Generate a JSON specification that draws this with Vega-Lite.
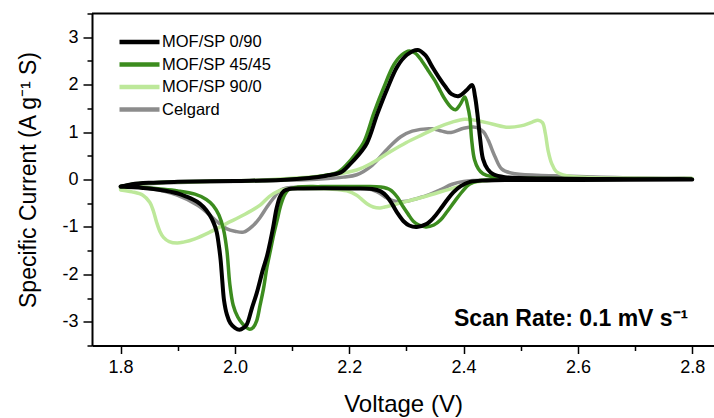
{
  "$schema": "https://vega.github.io/schema/vega-lite/v6.json",
  "width": 622,
  "height": 332,
  "autosize": {"type": "none"},
  "padding": {"left": 92, "top": 13.5, "right": 0, "bottom": 72.5},
  "background": "white",
  "config": {
    "view": {"stroke": null},
    "font": "Liberation Sans",
    "axis": {
      "domainColor": "black", "domainWidth": 2, "tickColor": "black", "tickWidth": 1.5,
      "labelColor": "black", "titleColor": "black", "grid": false,
      "labelFont": "Liberation Sans", "titleFont": "Liberation Sans",
      "labelFontSize": 18, "titleFontSize": 24, "titleFontWeight": "normal"
    },
    "legend": {
      "orient": "none", "legendX": 35, "legendY": 16, "padding": 0,
      "symbolType": "M-2,0L2,0", "symbolSize": 400, "symbolStrokeWidth": 4.5,
      "labelFont": "Liberation Sans", "labelFontSize": 16.5, "labelColor": "black",
      "labelOffset": 10, "rowPadding": 0.5, "title": null
    }
  },
  "datasets": {
    "cv": [
      {"s":"Celgard","i":1,"v":1.800,"c":-0.15},{"s":"Celgard","i":2,"v":1.850,"c":-0.09},{"s":"Celgard","i":3,"v":1.950,"c":-0.05},{"s":"Celgard","i":4,"v":2.050,"c":-0.03},{"s":"Celgard","i":5,"v":2.150,"c":0.01},{"s":"Celgard","i":6,"v":2.190,"c":0.05},{"s":"Celgard","i":7,"v":2.213,"c":0.10},{"s":"Celgard","i":8,"v":2.240,"c":0.30},{"s":"Celgard","i":9,"v":2.268,"c":0.66},{"s":"Celgard","i":10,"v":2.290,"c":0.90},{"s":"Celgard","i":11,"v":2.310,"c":1.02},{"s":"Celgard","i":12,"v":2.345,"c":1.07},{"s":"Celgard","i":13,"v":2.362,"c":1.02},{"s":"Celgard","i":14,"v":2.378,"c":0.99},{"s":"Celgard","i":15,"v":2.400,"c":1.08},{"s":"Celgard","i":16,"v":2.422,"c":1.10},{"s":"Celgard","i":17,"v":2.435,"c":1.00},{"s":"Celgard","i":18,"v":2.443,"c":0.83},{"s":"Celgard","i":19,"v":2.455,"c":0.48},{"s":"Celgard","i":20,"v":2.467,"c":0.22},{"s":"Celgard","i":21,"v":2.490,"c":0.12},{"s":"Celgard","i":22,"v":2.560,"c":0.08},{"s":"Celgard","i":23,"v":2.665,"c":0.04},{"s":"Celgard","i":24,"v":2.800,"c":0.02},
      {"s":"Celgard","i":25,"v":2.600,"c":0.00},{"s":"Celgard","i":26,"v":2.460,"c":-0.01},{"s":"Celgard","i":27,"v":2.420,"c":-0.02},{"s":"Celgard","i":28,"v":2.400,"c":-0.04},{"s":"Celgard","i":29,"v":2.380,"c":-0.10},{"s":"Celgard","i":30,"v":2.359,"c":-0.22},{"s":"Celgard","i":31,"v":2.340,"c":-0.32},{"s":"Celgard","i":32,"v":2.319,"c":-0.40},{"s":"Celgard","i":33,"v":2.300,"c":-0.46},{"s":"Celgard","i":34,"v":2.289,"c":-0.47},{"s":"Celgard","i":35,"v":2.275,"c":-0.44},{"s":"Celgard","i":36,"v":2.266,"c":-0.39},{"s":"Celgard","i":37,"v":2.249,"c":-0.26},{"s":"Celgard","i":38,"v":2.231,"c":-0.19},{"s":"Celgard","i":39,"v":2.200,"c":-0.16},{"s":"Celgard","i":40,"v":2.120,"c":-0.16},{"s":"Celgard","i":41,"v":2.090,"c":-0.18},{"s":"Celgard","i":42,"v":2.079,"c":-0.23},{"s":"Celgard","i":43,"v":2.067,"c":-0.40},{"s":"Celgard","i":44,"v":2.056,"c":-0.58},{"s":"Celgard","i":45,"v":2.044,"c":-0.80},{"s":"Celgard","i":46,"v":2.032,"c":-0.97},{"s":"Celgard","i":47,"v":2.015,"c":-1.11},{"s":"Celgard","i":48,"v":2.000,"c":-1.09},{"s":"Celgard","i":49,"v":1.986,"c":-1.04},{"s":"Celgard","i":50,"v":1.970,"c":-0.90},{"s":"Celgard","i":51,"v":1.956,"c":-0.75},{"s":"Celgard","i":52,"v":1.934,"c":-0.54},{"s":"Celgard","i":53,"v":1.899,"c":-0.33},{"s":"Celgard","i":54,"v":1.851,"c":-0.19},{"s":"Celgard","i":55,"v":1.800,"c":-0.15},

      {"s":"MOF/SP 90/0","i":1,"v":1.800,"c":-0.20},{"s":"MOF/SP 90/0","i":2,"v":1.820,"c":-0.12},{"s":"MOF/SP 90/0","i":3,"v":1.860,"c":-0.07},{"s":"MOF/SP 90/0","i":4,"v":1.950,"c":-0.04},{"s":"MOF/SP 90/0","i":5,"v":2.050,"c":-0.01},{"s":"MOF/SP 90/0","i":6,"v":2.120,"c":0.04},{"s":"MOF/SP 90/0","i":7,"v":2.170,"c":0.10},{"s":"MOF/SP 90/0","i":8,"v":2.213,"c":0.20},{"s":"MOF/SP 90/0","i":9,"v":2.240,"c":0.35},{"s":"MOF/SP 90/0","i":10,"v":2.271,"c":0.58},{"s":"MOF/SP 90/0","i":11,"v":2.300,"c":0.78},{"s":"MOF/SP 90/0","i":12,"v":2.329,"c":0.95},{"s":"MOF/SP 90/0","i":13,"v":2.355,"c":1.10},{"s":"MOF/SP 90/0","i":14,"v":2.380,"c":1.21},{"s":"MOF/SP 90/0","i":15,"v":2.402,"c":1.27},{"s":"MOF/SP 90/0","i":16,"v":2.425,"c":1.24},{"s":"MOF/SP 90/0","i":17,"v":2.450,"c":1.17},{"s":"MOF/SP 90/0","i":18,"v":2.478,"c":1.10},{"s":"MOF/SP 90/0","i":19,"v":2.500,"c":1.13},{"s":"MOF/SP 90/0","i":20,"v":2.520,"c":1.21},{"s":"MOF/SP 90/0","i":21,"v":2.530,"c":1.25},{"s":"MOF/SP 90/0","i":22,"v":2.538,"c":1.20},{"s":"MOF/SP 90/0","i":23,"v":2.543,"c":0.97},{"s":"MOF/SP 90/0","i":24,"v":2.548,"c":0.60},{"s":"MOF/SP 90/0","i":25,"v":2.554,"c":0.34},{"s":"MOF/SP 90/0","i":26,"v":2.562,"c":0.17},{"s":"MOF/SP 90/0","i":27,"v":2.580,"c":0.08},{"s":"MOF/SP 90/0","i":28,"v":2.620,"c":0.04},{"s":"MOF/SP 90/0","i":29,"v":2.800,"c":0.02},
      {"s":"MOF/SP 90/0","i":30,"v":2.600,"c":0.00},{"s":"MOF/SP 90/0","i":31,"v":2.460,"c":-0.01},{"s":"MOF/SP 90/0","i":32,"v":2.424,"c":-0.05},{"s":"MOF/SP 90/0","i":33,"v":2.388,"c":-0.16},{"s":"MOF/SP 90/0","i":34,"v":2.329,"c":-0.37},{"s":"MOF/SP 90/0","i":35,"v":2.284,"c":-0.51},{"s":"MOF/SP 90/0","i":36,"v":2.262,"c":-0.58},{"s":"MOF/SP 90/0","i":37,"v":2.254,"c":-0.60},{"s":"MOF/SP 90/0","i":38,"v":2.242,"c":-0.58},{"s":"MOF/SP 90/0","i":39,"v":2.231,"c":-0.51},{"s":"MOF/SP 90/0","i":40,"v":2.220,"c":-0.40},{"s":"MOF/SP 90/0","i":41,"v":2.213,"c":-0.33},{"s":"MOF/SP 90/0","i":42,"v":2.196,"c":-0.24},{"s":"MOF/SP 90/0","i":43,"v":2.166,"c":-0.20},{"s":"MOF/SP 90/0","i":44,"v":2.120,"c":-0.19},{"s":"MOF/SP 90/0","i":45,"v":2.090,"c":-0.20},{"s":"MOF/SP 90/0","i":46,"v":2.075,"c":-0.25},{"s":"MOF/SP 90/0","i":47,"v":2.060,"c":-0.36},{"s":"MOF/SP 90/0","i":48,"v":2.044,"c":-0.54},{"s":"MOF/SP 90/0","i":49,"v":2.015,"c":-0.75},{"s":"MOF/SP 90/0","i":50,"v":1.985,"c":-0.93},{"s":"MOF/SP 90/0","i":51,"v":1.956,"c":-1.11},{"s":"MOF/SP 90/0","i":52,"v":1.930,"c":-1.25},{"s":"MOF/SP 90/0","i":53,"v":1.910,"c":-1.32},{"s":"MOF/SP 90/0","i":54,"v":1.899,"c":-1.34},{"s":"MOF/SP 90/0","i":55,"v":1.885,"c":-1.31},{"s":"MOF/SP 90/0","i":56,"v":1.875,"c":-1.22},{"s":"MOF/SP 90/0","i":57,"v":1.869,"c":-1.10},{"s":"MOF/SP 90/0","i":58,"v":1.863,"c":-0.90},{"s":"MOF/SP 90/0","i":59,"v":1.857,"c":-0.65},{"s":"MOF/SP 90/0","i":60,"v":1.851,"c":-0.48},{"s":"MOF/SP 90/0","i":61,"v":1.839,"c":-0.33},{"s":"MOF/SP 90/0","i":62,"v":1.820,"c":-0.26},{"s":"MOF/SP 90/0","i":63,"v":1.800,"c":-0.22},

      {"s":"MOF/SP 45/45","i":1,"v":1.800,"c":-0.15},{"s":"MOF/SP 45/45","i":2,"v":1.820,"c":-0.10},{"s":"MOF/SP 45/45","i":3,"v":1.850,"c":-0.07},{"s":"MOF/SP 45/45","i":4,"v":1.900,"c":-0.05},{"s":"MOF/SP 45/45","i":5,"v":2.000,"c":-0.03},{"s":"MOF/SP 45/45","i":6,"v":2.080,"c":-0.01},{"s":"MOF/SP 45/45","i":7,"v":2.125,"c":0.03},{"s":"MOF/SP 45/45","i":8,"v":2.155,"c":0.08},{"s":"MOF/SP 45/45","i":9,"v":2.180,"c":0.15},{"s":"MOF/SP 45/45","i":10,"v":2.196,"c":0.32},{"s":"MOF/SP 45/45","i":11,"v":2.210,"c":0.52},{"s":"MOF/SP 45/45","i":12,"v":2.226,"c":0.80},{"s":"MOF/SP 45/45","i":13,"v":2.243,"c":1.40},{"s":"MOF/SP 45/45","i":14,"v":2.260,"c":1.93},{"s":"MOF/SP 45/45","i":15,"v":2.278,"c":2.42},{"s":"MOF/SP 45/45","i":16,"v":2.292,"c":2.63},{"s":"MOF/SP 45/45","i":17,"v":2.305,"c":2.71},{"s":"MOF/SP 45/45","i":18,"v":2.316,"c":2.66},{"s":"MOF/SP 45/45","i":19,"v":2.327,"c":2.50},{"s":"MOF/SP 45/45","i":20,"v":2.338,"c":2.30},{"s":"MOF/SP 45/45","i":21,"v":2.350,"c":2.08},{"s":"MOF/SP 45/45","i":22,"v":2.360,"c":1.85},{"s":"MOF/SP 45/45","i":23,"v":2.368,"c":1.68},{"s":"MOF/SP 45/45","i":24,"v":2.379,"c":1.51},{"s":"MOF/SP 45/45","i":25,"v":2.386,"c":1.47},{"s":"MOF/SP 45/45","i":26,"v":2.394,"c":1.58},{"s":"MOF/SP 45/45","i":27,"v":2.402,"c":1.74},{"s":"MOF/SP 45/45","i":28,"v":2.407,"c":1.55},{"s":"MOF/SP 45/45","i":29,"v":2.411,"c":1.30},{"s":"MOF/SP 45/45","i":30,"v":2.414,"c":0.85},{"s":"MOF/SP 45/45","i":31,"v":2.419,"c":0.42},{"s":"MOF/SP 45/45","i":32,"v":2.426,"c":0.22},{"s":"MOF/SP 45/45","i":33,"v":2.434,"c":0.12},{"s":"MOF/SP 45/45","i":34,"v":2.449,"c":0.06},{"s":"MOF/SP 45/45","i":35,"v":2.500,"c":0.03},{"s":"MOF/SP 45/45","i":36,"v":2.800,"c":0.01},
      {"s":"MOF/SP 45/45","i":37,"v":2.600,"c":0.00},{"s":"MOF/SP 45/45","i":38,"v":2.450,"c":-0.01},{"s":"MOF/SP 45/45","i":39,"v":2.425,"c":-0.03},{"s":"MOF/SP 45/45","i":40,"v":2.410,"c":-0.10},{"s":"MOF/SP 45/45","i":41,"v":2.398,"c":-0.25},{"s":"MOF/SP 45/45","i":42,"v":2.385,"c":-0.45},{"s":"MOF/SP 45/45","i":43,"v":2.371,"c":-0.68},{"s":"MOF/SP 45/45","i":44,"v":2.360,"c":-0.85},{"s":"MOF/SP 45/45","i":45,"v":2.348,"c":-0.96},{"s":"MOF/SP 45/45","i":46,"v":2.334,"c":-1.00},{"s":"MOF/SP 45/45","i":47,"v":2.322,"c":-0.96},{"s":"MOF/SP 45/45","i":48,"v":2.312,"c":-0.88},{"s":"MOF/SP 45/45","i":49,"v":2.303,"c":-0.73},{"s":"MOF/SP 45/45","i":50,"v":2.294,"c":-0.57},{"s":"MOF/SP 45/45","i":51,"v":2.284,"c":-0.37},{"s":"MOF/SP 45/45","i":52,"v":2.272,"c":-0.22},{"s":"MOF/SP 45/45","i":53,"v":2.255,"c":-0.16},{"s":"MOF/SP 45/45","i":54,"v":2.220,"c":-0.15},{"s":"MOF/SP 45/45","i":55,"v":2.150,"c":-0.15},{"s":"MOF/SP 45/45","i":56,"v":2.110,"c":-0.16},{"s":"MOF/SP 45/45","i":57,"v":2.094,"c":-0.21},{"s":"MOF/SP 45/45","i":58,"v":2.087,"c":-0.32},{"s":"MOF/SP 45/45","i":59,"v":2.080,"c":-0.55},{"s":"MOF/SP 45/45","i":60,"v":2.074,"c":-0.85},{"s":"MOF/SP 45/45","i":61,"v":2.068,"c":-1.15},{"s":"MOF/SP 45/45","i":62,"v":2.062,"c":-1.50},{"s":"MOF/SP 45/45","i":63,"v":2.056,"c":-1.85},{"s":"MOF/SP 45/45","i":64,"v":2.050,"c":-2.30},{"s":"MOF/SP 45/45","i":65,"v":2.044,"c":-2.65},{"s":"MOF/SP 45/45","i":66,"v":2.038,"c":-2.98},{"s":"MOF/SP 45/45","i":67,"v":2.032,"c":-3.12},{"s":"MOF/SP 45/45","i":68,"v":2.026,"c":-3.16},{"s":"MOF/SP 45/45","i":69,"v":2.020,"c":-3.12},{"s":"MOF/SP 45/45","i":70,"v":2.013,"c":-3.04},{"s":"MOF/SP 45/45","i":71,"v":2.005,"c":-2.90},{"s":"MOF/SP 45/45","i":72,"v":1.997,"c":-2.65},{"s":"MOF/SP 45/45","i":73,"v":1.991,"c":-2.20},{"s":"MOF/SP 45/45","i":74,"v":1.986,"c":-1.50},{"s":"MOF/SP 45/45","i":75,"v":1.980,"c":-1.05},{"s":"MOF/SP 45/45","i":76,"v":1.972,"c":-0.75},{"s":"MOF/SP 45/45","i":77,"v":1.962,"c":-0.55},{"s":"MOF/SP 45/45","i":78,"v":1.950,"c":-0.42},{"s":"MOF/SP 45/45","i":79,"v":1.930,"c":-0.31},{"s":"MOF/SP 45/45","i":80,"v":1.900,"c":-0.24},{"s":"MOF/SP 45/45","i":81,"v":1.870,"c":-0.20},{"s":"MOF/SP 45/45","i":82,"v":1.840,"c":-0.17},{"s":"MOF/SP 45/45","i":83,"v":1.800,"c":-0.15},

      {"s":"MOF/SP 0/90","i":1,"v":1.800,"c":-0.15},{"s":"MOF/SP 0/90","i":2,"v":1.820,"c":-0.10},{"s":"MOF/SP 0/90","i":3,"v":1.850,"c":-0.07},{"s":"MOF/SP 0/90","i":4,"v":1.900,"c":-0.05},{"s":"MOF/SP 0/90","i":5,"v":2.000,"c":-0.03},{"s":"MOF/SP 0/90","i":6,"v":2.080,"c":-0.01},{"s":"MOF/SP 0/90","i":7,"v":2.130,"c":0.03},{"s":"MOF/SP 0/90","i":8,"v":2.160,"c":0.08},{"s":"MOF/SP 0/90","i":9,"v":2.185,"c":0.15},{"s":"MOF/SP 0/90","i":10,"v":2.201,"c":0.32},{"s":"MOF/SP 0/90","i":11,"v":2.215,"c":0.50},{"s":"MOF/SP 0/90","i":12,"v":2.231,"c":0.77},{"s":"MOF/SP 0/90","i":13,"v":2.249,"c":1.38},{"s":"MOF/SP 0/90","i":14,"v":2.266,"c":1.90},{"s":"MOF/SP 0/90","i":15,"v":2.284,"c":2.38},{"s":"MOF/SP 0/90","i":16,"v":2.301,"c":2.63},{"s":"MOF/SP 0/90","i":17,"v":2.320,"c":2.73},{"s":"MOF/SP 0/90","i":18,"v":2.333,"c":2.62},{"s":"MOF/SP 0/90","i":19,"v":2.345,"c":2.38},{"s":"MOF/SP 0/90","i":20,"v":2.357,"c":2.15},{"s":"MOF/SP 0/90","i":21,"v":2.368,"c":1.96},{"s":"MOF/SP 0/90","i":22,"v":2.379,"c":1.80},{"s":"MOF/SP 0/90","i":23,"v":2.392,"c":1.76},{"s":"MOF/SP 0/90","i":24,"v":2.405,"c":1.88},{"s":"MOF/SP 0/90","i":25,"v":2.415,"c":1.99},{"s":"MOF/SP 0/90","i":26,"v":2.420,"c":1.75},{"s":"MOF/SP 0/90","i":27,"v":2.424,"c":1.40},{"s":"MOF/SP 0/90","i":28,"v":2.429,"c":0.85},{"s":"MOF/SP 0/90","i":29,"v":2.434,"c":0.43},{"s":"MOF/SP 0/90","i":30,"v":2.442,"c":0.22},{"s":"MOF/SP 0/90","i":31,"v":2.452,"c":0.11},{"s":"MOF/SP 0/90","i":32,"v":2.472,"c":0.05},{"s":"MOF/SP 0/90","i":33,"v":2.550,"c":0.02},{"s":"MOF/SP 0/90","i":34,"v":2.650,"c":0.01},{"s":"MOF/SP 0/90","i":35,"v":2.800,"c":0.00},
      {"s":"MOF/SP 0/90","i":36,"v":2.600,"c":-0.01},{"s":"MOF/SP 0/90","i":37,"v":2.480,"c":-0.01},{"s":"MOF/SP 0/90","i":38,"v":2.440,"c":-0.02},{"s":"MOF/SP 0/90","i":39,"v":2.411,"c":-0.05},{"s":"MOF/SP 0/90","i":40,"v":2.395,"c":-0.14},{"s":"MOF/SP 0/90","i":41,"v":2.382,"c":-0.27},{"s":"MOF/SP 0/90","i":42,"v":2.370,"c":-0.45},{"s":"MOF/SP 0/90","i":43,"v":2.359,"c":-0.63},{"s":"MOF/SP 0/90","i":44,"v":2.348,"c":-0.80},{"s":"MOF/SP 0/90","i":45,"v":2.335,"c":-0.94},{"s":"MOF/SP 0/90","i":46,"v":2.318,"c":-1.00},{"s":"MOF/SP 0/90","i":47,"v":2.305,"c":-0.97},{"s":"MOF/SP 0/90","i":48,"v":2.295,"c":-0.88},{"s":"MOF/SP 0/90","i":49,"v":2.285,"c":-0.72},{"s":"MOF/SP 0/90","i":50,"v":2.276,"c":-0.54},{"s":"MOF/SP 0/90","i":51,"v":2.266,"c":-0.36},{"s":"MOF/SP 0/90","i":52,"v":2.255,"c":-0.25},{"s":"MOF/SP 0/90","i":53,"v":2.240,"c":-0.20},{"s":"MOF/SP 0/90","i":54,"v":2.200,"c":-0.19},{"s":"MOF/SP 0/90","i":55,"v":2.120,"c":-0.19},{"s":"MOF/SP 0/90","i":56,"v":2.095,"c":-0.20},{"s":"MOF/SP 0/90","i":57,"v":2.086,"c":-0.24},{"s":"MOF/SP 0/90","i":58,"v":2.079,"c":-0.36},{"s":"MOF/SP 0/90","i":59,"v":2.073,"c":-0.60},{"s":"MOF/SP 0/90","i":60,"v":2.067,"c":-1.00},{"s":"MOF/SP 0/90","i":61,"v":2.062,"c":-1.30},{"s":"MOF/SP 0/90","i":62,"v":2.056,"c":-1.62},{"s":"MOF/SP 0/90","i":63,"v":2.049,"c":-1.90},{"s":"MOF/SP 0/90","i":64,"v":2.038,"c":-2.40},{"s":"MOF/SP 0/90","i":65,"v":2.030,"c":-2.70},{"s":"MOF/SP 0/90","i":66,"v":2.021,"c":-3.05},{"s":"MOF/SP 0/90","i":67,"v":2.015,"c":-3.13},{"s":"MOF/SP 0/90","i":68,"v":2.008,"c":-3.17},{"s":"MOF/SP 0/90","i":69,"v":2.000,"c":-3.13},{"s":"MOF/SP 0/90","i":70,"v":1.992,"c":-3.03},{"s":"MOF/SP 0/90","i":71,"v":1.986,"c":-2.85},{"s":"MOF/SP 0/90","i":72,"v":1.981,"c":-2.55},{"s":"MOF/SP 0/90","i":73,"v":1.978,"c":-2.15},{"s":"MOF/SP 0/90","i":74,"v":1.975,"c":-1.70},{"s":"MOF/SP 0/90","i":75,"v":1.972,"c":-1.40},{"s":"MOF/SP 0/90","i":76,"v":1.968,"c":-1.10},{"s":"MOF/SP 0/90","i":77,"v":1.963,"c":-0.92},{"s":"MOF/SP 0/90","i":78,"v":1.956,"c":-0.75},{"s":"MOF/SP 0/90","i":79,"v":1.945,"c":-0.58},{"s":"MOF/SP 0/90","i":80,"v":1.934,"c":-0.47},{"s":"MOF/SP 0/90","i":81,"v":1.915,"c":-0.36},{"s":"MOF/SP 0/90","i":82,"v":1.899,"c":-0.29},{"s":"MOF/SP 0/90","i":83,"v":1.870,"c":-0.22},{"s":"MOF/SP 0/90","i":84,"v":1.839,"c":-0.18},{"s":"MOF/SP 0/90","i":85,"v":1.800,"c":-0.15}
    ],
    "note": [{"v": 2.793, "c": -3.09, "t": "Scan Rate: 0.1 mV s⁻¹"}],
    "frame": [{"v": 1.75, "v2": 2.838, "c": 3.5}]
  },
  "encoding": {
    "x": {"field": "v", "type": "quantitative", "scale": {"domain": [1.75, 2.838], "nice": false, "zero": false},
      "axis": {"title": "Voltage (V)", "values": [1.8,1.9,2.0,2.1,2.2,2.3,2.4,2.5,2.6,2.7,2.8],
        "labelExpr": "round(datum.value*10) % 2 == 0 ? format(datum.value, '.1f') : ''",
        "tickSize": {"condition": {"test": "round(datum.value*10) % 2 == 0", "value": 8}, "value": 5},
        "labelPadding": 5, "titlePadding": 16, "labelFlush": false}},
    "y": {"field": "c", "type": "quantitative", "scale": {"domain": [-3.5, 3.5], "nice": false, "zero": false},
      "axis": {"title": "Specific Current (A g⁻¹ S)", "titleFontSize": 23, "values": [-3.5,-3,-2.5,-2,-1.5,-1,-0.5,0,0.5,1,1.5,2,2.5,3,3.5],
        "labelExpr": "datum.value == round(datum.value) ? '' + datum.value : ''",
        "tickSize": {"condition": {"test": "datum.value == round(datum.value)", "value": 9}, "value": 5},
        "labelPadding": 5, "titlePadding": 21, "labelFlush": false}}
  },
  "layer": [
    {
      "data": {"name": "cv"},
      "transform": [{"filter": "datum.s == 'Celgard'"}],
      "mark": {"type": "line", "interpolate": "catmull-rom", "strokeWidth": 3.5, "strokeCap": "round", "strokeJoin": "round"},
      "encoding": {
        "order": {"field": "i", "type": "quantitative"},
        "color": {"field": "s", "type": "nominal",
          "scale": {"domain": ["MOF/SP 0/90", "MOF/SP 45/45", "MOF/SP 90/0", "Celgard"], "range": ["#000000", "#3c8c1e", "#bde89a", "#8c8c8c"]}}
      }
    },
    {
      "data": {"name": "cv"},
      "transform": [{"filter": "datum.s == 'MOF/SP 90/0'"}],
      "mark": {"type": "line", "interpolate": "catmull-rom", "strokeWidth": 3.5, "strokeCap": "round", "strokeJoin": "round"},
      "encoding": {
        "order": {"field": "i", "type": "quantitative"},
        "color": {"field": "s", "type": "nominal"}
      }
    },
    {
      "data": {"name": "cv"},
      "transform": [{"filter": "datum.s == 'MOF/SP 45/45'"}],
      "mark": {"type": "line", "interpolate": "catmull-rom", "strokeWidth": 3.5, "strokeCap": "round", "strokeJoin": "round"},
      "encoding": {
        "order": {"field": "i", "type": "quantitative"},
        "color": {"field": "s", "type": "nominal"}
      }
    },
    {
      "data": {"name": "cv"},
      "transform": [{"filter": "datum.s == 'MOF/SP 0/90'"}],
      "mark": {"type": "line", "interpolate": "catmull-rom", "strokeWidth": 4, "strokeCap": "round", "strokeJoin": "round"},
      "encoding": {
        "order": {"field": "i", "type": "quantitative"},
        "color": {"field": "s", "type": "nominal"}
      }
    },
    {
      "data": {"name": "frame"},
      "mark": {"type": "rule", "color": "black", "strokeWidth": 2},
      "encoding": {
        "x2": {"field": "v2"}
      }
    },
    {
      "data": {"name": "note"},
      "mark": {"type": "text", "align": "right", "baseline": "alphabetic", "fontWeight": "bold", "fontSize": 23, "font": "Liberation Sans", "color": "black"},
      "encoding": {
        "text": {"field": "t"}
      }
    }
  ]
}
